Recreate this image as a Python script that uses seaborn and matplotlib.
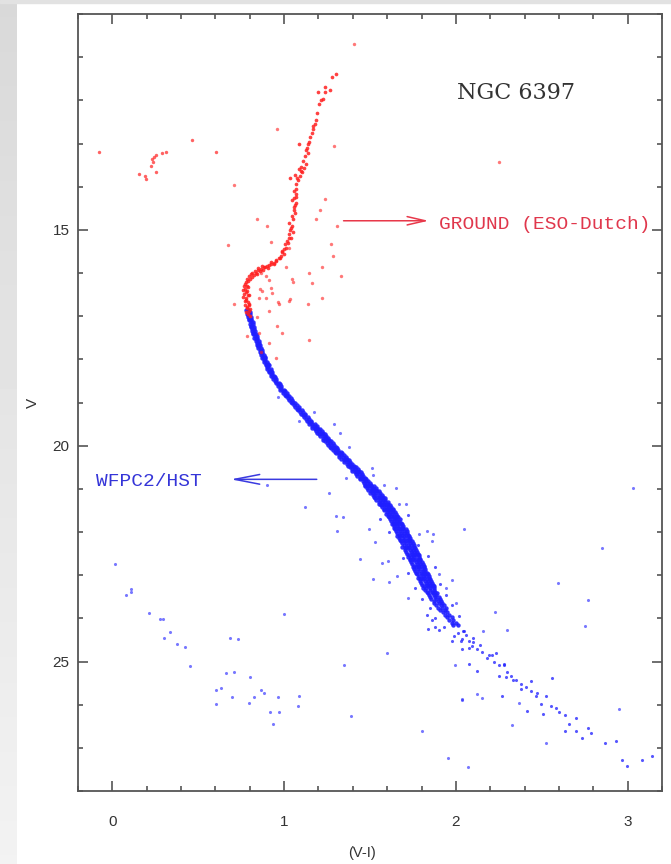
import numpy as np
import pandas as pd
import matplotlib
matplotlib.use('Agg')
import matplotlib.pyplot as plt
from matplotlib.ticker import MultipleLocator
import seaborn as sns

# ---- data (colour V-I, magnitude V) ----

# ground-based (red): giant branch + subgiant branch + turnoff
rgb_pts = [
    (1.276, 11.45), (1.300, 11.40), (1.195, 11.80), (1.236, 11.80), (1.265, 11.76),
    (1.224, 11.96), (1.201, 12.08), (1.183, 12.45), (1.178, 12.54), (1.166, 12.66),
    (1.160, 12.75), (1.143, 12.96), (1.084, 13.00), (1.131, 13.10), (1.125, 13.16),
    (1.137, 13.23), (1.125, 13.47), (1.114, 13.56), (1.084, 13.58), (1.096, 13.63),
    (1.102, 13.67), (1.061, 13.74), (1.032, 13.81), (1.073, 13.81), (1.067, 13.93),
    (1.055, 14.09), (1.067, 14.16), (1.067, 14.25), (1.055, 14.27), (1.067, 14.37),
    (1.044, 14.32), (1.055, 14.48), (1.061, 14.62), (1.044, 14.67), (1.049, 14.74),
    (1.026, 14.85), (1.038, 14.95), (1.049, 15.06), (1.026, 15.09), (1.038, 15.18),
    (1.015, 15.25), (1.003, 15.32), (1.009, 15.41), (0.986, 15.48), (0.997, 15.55),
    (0.980, 15.60), (0.968, 15.66), (0.951, 15.71), (0.939, 15.76), (0.922, 15.78),
    (0.899, 15.83), (0.881, 15.87), (0.864, 15.90), (0.846, 15.94), (0.834, 15.99),
    (0.811, 16.01), (0.793, 16.06), (0.782, 16.13), (0.776, 16.22), (0.782, 16.29),
    (0.770, 16.36), (0.776, 16.45), (0.788, 16.52), (0.776, 16.59), (0.788, 16.68),
    (0.793, 16.75), (0.782, 16.80), (0.793, 16.87),
    (0.955, 15.73), (0.940, 15.80), (0.925, 15.74), (0.910, 15.82), (0.905, 15.88),
    (0.890, 15.86), (0.875, 15.93), (0.870, 15.84), (0.858, 15.96), (0.850, 15.89),
    (0.840, 16.02), (0.828, 15.95), (0.822, 16.05), (0.815, 16.10), (0.805, 16.03),
    (0.800, 16.15), (0.790, 16.18), (0.772, 16.25), (0.765, 16.30), (0.792, 16.33),
    (0.760, 16.40), (0.785, 16.42), (0.768, 16.48), (0.795, 16.50), (0.762, 16.55),
    (0.780, 16.62), (0.770, 16.66), (0.795, 16.72), (0.773, 16.74), (0.785, 16.78),
    (0.800, 16.83), (0.776, 16.90), (0.790, 16.95), (0.800, 17.00), (0.975, 15.65),
    (0.990, 15.52), (1.000, 15.45), (1.020, 15.30), (1.030, 15.20), (1.035, 15.00),
    (1.045, 14.90), (1.055, 14.55), (1.065, 14.42), (1.070, 14.05), (1.080, 13.85),
    (1.090, 13.75), (1.100, 13.55), (1.110, 13.40), (1.120, 13.30), (1.140, 13.00),
    (1.150, 12.85), (1.170, 12.60), (1.190, 12.30), (1.215, 12.00), (1.240, 11.70),
]

# horizontal branch (red)
hb_pts = [
    (-0.080, 13.19), (0.153, 13.70), (0.188, 13.75), (0.194, 13.83), (0.223, 13.51),
    (0.235, 13.44), (0.240, 13.32), (0.252, 13.26), (0.229, 13.35), (0.287, 13.21),
    (0.310, 13.19), (0.252, 13.65), (0.462, 12.91), (0.601, 13.19),
]

# scattered red field stars
red_field = [
    (0.957, 12.66), (0.706, 13.95), (1.288, 13.06), (1.406, 10.69), (2.249, 13.44),
    (0.841, 14.74), (0.899, 14.90), (0.671, 15.36), (0.922, 15.29), (1.184, 14.76),
    (1.207, 14.53), (1.306, 14.90), (1.271, 15.32), (1.282, 15.60), (1.009, 15.87),
    (1.143, 16.01), (1.218, 15.85), (1.044, 16.13), (1.160, 16.24), (1.329, 16.08),
    (0.706, 16.71), (0.963, 16.68), (1.032, 16.61), (1.137, 16.71), (1.218, 16.59),
    (1.143, 17.56), (0.852, 17.38), (1.236, 14.28), (0.864, 15.99), (0.893, 16.06),
    (0.910, 16.17), (0.922, 16.34), (0.927, 16.47), (0.968, 16.71), (0.910, 16.87),
    (0.857, 16.36), (0.852, 16.57), (0.840, 17.03), (0.956, 17.22), (0.985, 17.40),
    (0.910, 17.63), (0.863, 17.84), (0.951, 17.96), (0.782, 17.45), (1.026, 16.64),
    (1.049, 16.20), (0.870, 16.41), (0.893, 16.57), (1.026, 15.41),
]

# HST (blue): dense main sequence ridge
ms_pts = [
    (0.778, 16.86), (0.791, 16.86), (0.788, 16.90), (0.801, 16.90), (0.781, 16.94), (0.799, 16.94),
    (0.797, 16.98), (0.789, 16.98), (0.807, 17.02), (0.788, 17.02), (0.797, 17.06), (0.809, 17.06),
    (0.795, 17.10), (0.809, 17.10), (0.806, 17.14), (0.819, 17.14), (0.799, 17.18), (0.817, 17.18),
    (0.815, 17.22), (0.808, 17.22), (0.825, 17.26), (0.806, 17.26), (0.815, 17.30), (0.827, 17.30),
    (0.813, 17.34), (0.830, 17.34), (0.827, 17.38), (0.820, 17.38), (0.837, 17.42), (0.819, 17.42),
    (0.828, 17.46), (0.840, 17.46), (0.827, 17.50), (0.844, 17.50), (0.842, 17.54), (0.835, 17.54),
    (0.853, 17.58), (0.834, 17.58), (0.843, 17.62), (0.855, 17.62), (0.842, 17.66), (0.859, 17.66),
    (0.856, 17.70), (0.849, 17.70), (0.867, 17.74), (0.848, 17.74), (0.858, 17.78), (0.870, 17.78),
    (0.857, 17.82), (0.874, 17.82), (0.872, 17.86), (0.865, 17.86), (0.883, 17.90), (0.864, 17.90),
    (0.875, 17.94), (0.887, 17.94), (0.874, 17.98), (0.891, 17.98), (0.890, 18.02), (0.883, 18.02),
    (0.901, 18.06), (0.882, 18.06), (0.893, 18.10), (0.905, 18.10), (0.893, 18.14), (0.910, 18.14),
    (0.909, 18.18), (0.902, 18.18), (0.921, 18.22), (0.902, 18.22), (0.913, 18.26), (0.925, 18.26),
    (0.913, 18.30), (0.930, 18.30), (0.930, 18.34), (0.923, 18.34), (0.943, 18.38), (0.924, 18.38),
    (0.936, 18.42), (0.948, 18.42), (0.936, 18.46), (0.953, 18.46), (0.953, 18.50), (0.946, 18.50),
    (0.968, 18.54), (0.951, 18.54), (0.962, 18.58), (0.975, 18.58), (0.964, 18.62), (0.983, 18.62),
    (0.983, 18.66), (0.974, 18.66), (0.999, 18.70), (0.978, 18.70), (0.993, 18.74), (1.007, 18.74),
    (0.994, 18.78), (1.015, 18.78), (1.016, 18.82), (1.006, 18.82), (1.031, 18.86), (1.010, 18.86),
    (1.024, 18.90), (1.039, 18.90), (1.027, 18.94), (1.048, 18.94), (1.050, 18.98), (1.040, 18.98),
    (1.066, 19.02), (1.045, 19.02), (1.060, 19.06), (1.075, 19.06), (1.063, 19.10), (1.084, 19.10),
    (1.086, 19.14), (1.076, 19.14), (1.102, 19.18), (1.080, 19.18), (1.095, 19.22), (1.110, 19.22),
    (1.097, 19.26), (1.119, 19.26), (1.120, 19.30), (1.110, 19.30), (1.137, 19.34), (1.114, 19.34),
    (1.130, 19.38), (1.146, 19.38), (1.132, 19.42), (1.155, 19.42), (1.156, 19.46), (1.146, 19.46),
    (1.147, 19.50), (1.165, 19.50), (1.179, 19.50), (1.162, 19.54), (1.180, 19.54), (1.192, 19.54),
    (1.162, 19.58), (1.178, 19.58), (1.194, 19.58), (1.179, 19.62), (1.195, 19.62), (1.209, 19.62),
    (1.183, 19.66), (1.203, 19.66), (1.219, 19.66), (1.192, 19.70), (1.214, 19.70), (1.226, 19.70),
    (1.205, 19.74), (1.221, 19.74), (1.238, 19.74), (1.208, 19.78), (1.230, 19.78), (1.244, 19.78),
    (1.225, 19.82), (1.241, 19.82), (1.255, 19.82), (1.228, 19.86), (1.248, 19.86), (1.264, 19.86),
    (1.237, 19.90), (1.259, 19.90), (1.271, 19.90), (1.250, 19.94), (1.266, 19.94), (1.283, 19.94),
    (1.253, 19.98), (1.275, 19.98), (1.289, 19.98), (1.270, 20.02), (1.286, 20.02), (1.300, 20.02),
    (1.273, 20.06), (1.293, 20.06), (1.309, 20.06), (1.282, 20.10), (1.304, 20.10), (1.316, 20.10),
    (1.296, 20.14), (1.312, 20.14), (1.329, 20.14), (1.300, 20.18), (1.322, 20.18), (1.336, 20.18),
    (1.318, 20.22), (1.334, 20.22), (1.348, 20.22), (1.322, 20.26), (1.342, 20.26), (1.358, 20.26),
    (1.332, 20.30), (1.354, 20.30), (1.366, 20.30), (1.346, 20.34), (1.362, 20.34), (1.379, 20.34),
    (1.350, 20.38), (1.372, 20.38), (1.386, 20.38), (1.368, 20.42), (1.384, 20.42), (1.398, 20.42),
    (1.372, 20.46), (1.392, 20.46), (1.408, 20.46), (1.382, 20.50), (1.404, 20.50), (1.416, 20.50),
    (1.395, 20.54), (1.411, 20.54), (1.428, 20.54), (1.398, 20.58), (1.420, 20.58), (1.434, 20.58),
    (1.415, 20.62), (1.431, 20.62), (1.445, 20.62), (1.418, 20.66), (1.438, 20.66), (1.454, 20.66),
    (1.427, 20.70), (1.449, 20.70), (1.461, 20.70), (1.440, 20.74), (1.456, 20.74), (1.473, 20.74),
    (1.443, 20.78), (1.465, 20.78), (1.479, 20.78), (1.460, 20.82), (1.476, 20.82), (1.490, 20.82),
    (1.463, 20.86), (1.483, 20.86), (1.499, 20.86), (1.472, 20.90), (1.494, 20.90), (1.506, 20.90),
    (1.468, 20.94), (1.486, 20.94), (1.507, 20.94), (1.525, 20.94),
    (1.483, 20.98), (1.504, 20.98), (1.519, 20.98), (1.537, 20.98),
    (1.488, 21.02), (1.509, 21.02), (1.524, 21.02), (1.536, 21.02),
    (1.506, 21.06), (1.524, 21.06), (1.542, 21.06), (1.554, 21.06),
    (1.502, 21.10), (1.517, 21.10), (1.535, 21.10), (1.559, 21.10),
    (1.516, 21.14), (1.532, 21.14), (1.550, 21.14), (1.567, 21.14),
    (1.521, 21.18), (1.545, 21.18), (1.564, 21.18), (1.575, 21.18),
    (1.532, 21.22), (1.553, 21.22), (1.568, 21.22), (1.586, 21.22),
    (1.537, 21.26), (1.558, 21.26), (1.573, 21.26), (1.585, 21.26),
    (1.554, 21.30), (1.572, 21.30), (1.590, 21.30), (1.602, 21.30),
    (1.550, 21.34), (1.565, 21.34), (1.583, 21.34), (1.607, 21.34),
    (1.564, 21.38), (1.580, 21.38), (1.598, 21.38), (1.615, 21.38),
    (1.568, 21.42), (1.592, 21.42), (1.611, 21.42), (1.622, 21.42),
    (1.579, 21.46), (1.600, 21.46), (1.615, 21.46), (1.633, 21.46),
    (1.583, 21.50), (1.604, 21.50), (1.619, 21.50), (1.631, 21.50),
    (1.598, 21.54), (1.616, 21.54), (1.634, 21.54), (1.646, 21.54),
    (1.593, 21.58), (1.608, 21.58), (1.626, 21.58), (1.650, 21.58),
    (1.605, 21.62), (1.621, 21.62), (1.639, 21.62), (1.656, 21.62),
    (1.609, 21.66), (1.633, 21.66), (1.652, 21.66), (1.663, 21.66),
    (1.618, 21.70), (1.639, 21.70), (1.654, 21.70), (1.672, 21.70),
    (1.620, 21.74), (1.641, 21.74), (1.656, 21.74), (1.668, 21.74),
    (1.634, 21.78), (1.652, 21.78), (1.670, 21.78), (1.682, 21.78),
    (1.627, 21.82), (1.642, 21.82), (1.660, 21.82), (1.684, 21.82),
    (1.639, 21.86), (1.655, 21.86), (1.673, 21.86), (1.690, 21.86),
    (1.641, 21.90), (1.665, 21.90), (1.684, 21.90), (1.695, 21.90),
    (1.645, 21.94), (1.668, 21.94), (1.687, 21.94), (1.707, 21.94),
    (1.650, 21.98), (1.675, 21.98), (1.696, 21.98), (1.713, 21.98),
    (1.656, 22.02), (1.680, 22.02), (1.700, 22.02), (1.718, 22.02),
    (1.668, 22.06), (1.689, 22.06), (1.710, 22.06), (1.724, 22.06),
    (1.659, 22.10), (1.677, 22.10), (1.698, 22.10), (1.726, 22.10),
    (1.671, 22.14), (1.692, 22.14), (1.713, 22.14), (1.731, 22.14),
    (1.676, 22.18), (1.700, 22.18), (1.721, 22.18), (1.735, 22.18),
    (1.681, 22.22), (1.706, 22.22), (1.727, 22.22), (1.744, 22.22),
    (1.686, 22.26), (1.712, 22.26), (1.731, 22.26), (1.749, 22.26),
    (1.698, 22.30), (1.719, 22.30), (1.740, 22.30), (1.754, 22.30),
    (1.689, 22.34), (1.707, 22.34), (1.728, 22.34), (1.756, 22.34),
    (1.701, 22.38), (1.722, 22.38), (1.743, 22.38), (1.761, 22.38),
    (1.706, 22.42), (1.730, 22.42), (1.751, 22.42), (1.765, 22.42),
    (1.711, 22.46), (1.736, 22.46), (1.757, 22.46), (1.774, 22.46),
    (1.716, 22.50), (1.742, 22.50), (1.761, 22.50), (1.779, 22.50),
    (1.728, 22.54), (1.749, 22.54), (1.770, 22.54), (1.784, 22.54),
    (1.719, 22.58), (1.737, 22.58), (1.758, 22.58), (1.786, 22.58),
    (1.731, 22.62), (1.752, 22.62), (1.773, 22.62), (1.791, 22.62),
    (1.735, 22.66), (1.759, 22.66), (1.780, 22.66), (1.794, 22.66),
    (1.740, 22.70), (1.766, 22.70), (1.785, 22.70), (1.803, 22.70),
    (1.745, 22.74), (1.771, 22.74), (1.790, 22.74), (1.808, 22.74),
    (1.757, 22.78), (1.778, 22.78), (1.799, 22.78), (1.813, 22.78),
    (1.748, 22.82), (1.766, 22.82), (1.787, 22.82), (1.815, 22.82),
    (1.759, 22.86), (1.780, 22.86), (1.801, 22.86), (1.819, 22.86),
    (1.764, 22.90), (1.788, 22.90), (1.809, 22.90), (1.823, 22.90),
    (1.769, 22.94), (1.795, 22.94), (1.814, 22.94), (1.832, 22.94),
    (1.774, 22.98), (1.800, 22.98), (1.819, 22.98), (1.837, 22.98),
    (1.786, 23.02), (1.807, 23.02), (1.828, 23.02), (1.842, 23.02),
    (1.777, 23.06), (1.795, 23.06), (1.816, 23.06), (1.844, 23.06),
    (1.789, 23.10), (1.810, 23.10), (1.831, 23.10), (1.849, 23.10),
    (1.794, 23.14), (1.818, 23.14), (1.839, 23.14), (1.853, 23.14),
    (1.799, 23.18), (1.825, 23.18), (1.844, 23.18), (1.862, 23.18),
    (1.804, 23.22), (1.830, 23.22), (1.849, 23.22), (1.867, 23.22),
    (1.817, 23.26), (1.838, 23.26), (1.859, 23.26), (1.873, 23.26),
    (1.808, 23.30), (1.826, 23.30), (1.847, 23.30), (1.875, 23.30),
    (1.823, 23.34), (1.851, 23.34), (1.872, 23.34), (1.833, 23.38), (1.860, 23.38), (1.880, 23.38),
    (1.838, 23.42), (1.866, 23.42), (1.889, 23.42), (1.841, 23.46), (1.870, 23.46), (1.887, 23.46),
    (1.850, 23.50), (1.878, 23.50), (1.899, 23.50), (1.858, 23.55), (1.885, 23.55), (1.905, 23.55),
    (1.870, 23.60), (1.894, 23.60), (1.915, 23.60), (1.875, 23.65), (1.902, 23.65), (1.921, 23.65),
    (1.884, 23.70), (1.912, 23.70), (1.931, 23.70), (1.896, 23.75), (1.921, 23.75), (1.940, 23.75),
    (1.910, 23.80), (1.936, 23.80), (1.925, 23.86), (1.950, 23.86), (1.935, 23.92), (1.960, 23.92),
    (1.950, 23.98), (1.975, 23.98), (1.958, 24.04), (1.985, 24.04), (1.975, 24.10), (2.000, 24.10),
    (1.982, 24.16), (2.010, 24.16),
]

# HST (blue): lower main sequence and the fuzz around the ridge, sparser
ms_lower = [
    (2.033, 24.47), (2.074, 24.52), (2.092, 24.63), (2.121, 24.70), (2.150, 24.79),
    (2.179, 24.93), (2.220, 25.02), (2.249, 25.09), (2.278, 25.09), (2.249, 25.33),
    (2.289, 25.37), (2.318, 25.33), (2.348, 25.44), (2.377, 25.51), (2.406, 25.60),
    (2.435, 25.68), (2.464, 25.79), (2.522, 25.79), (2.493, 25.98), (2.551, 26.02),
    (2.580, 26.07), (2.510, 26.21), (2.638, 26.25), (2.697, 26.30), (2.656, 26.44),
    (2.638, 26.60), (2.697, 26.60), (2.772, 26.53), (2.784, 26.65), (2.732, 26.78),
    (2.871, 26.88), (2.930, 26.85), (2.970, 27.29), (2.994, 27.43), (3.081, 27.29),
    (3.139, 27.18), (2.557, 25.39), (2.435, 25.46), (2.382, 25.63), (2.412, 26.14),
    (2.266, 25.79), (2.074, 25.05), (2.121, 25.21), (2.231, 24.81), (2.278, 25.05),
    (2.208, 24.86), (2.033, 24.70), (1.975, 24.52), (2.027, 24.52), (2.074, 24.68),
    (2.040, 24.30), (2.060, 24.38), (2.010, 24.35), (2.100, 24.55), (2.140, 24.62),
    (2.190, 24.85), (2.300, 25.25), (2.330, 25.42), (2.470, 25.72), (2.600, 26.18),
    (1.560, 21.70), (1.720, 21.60), (1.610, 22.00), (1.780, 22.30), (1.690, 22.60),
    (1.840, 22.55), (1.720, 22.95), (1.880, 22.80), (1.760, 23.30), (1.910, 23.20),
    (1.800, 23.55), (1.940, 23.45), (1.850, 23.75), (1.980, 23.70), (1.880, 24.00),
    (2.020, 23.95), (1.930, 24.20), (2.050, 24.30), (1.990, 24.40), (2.100, 24.45),
    (1.830, 23.92), (1.860, 24.05), (1.880, 24.20), (1.840, 24.25), (1.900, 24.28),
]

# scattered blue field stars
blue_field = [
    (0.899, 20.92), (1.120, 21.43), (1.260, 21.09), (1.300, 21.62), (1.340, 21.66),
    (1.306, 21.97), (1.440, 22.62), (1.516, 23.08), (1.719, 23.52), (1.497, 21.92),
    (1.527, 22.24), (1.567, 22.71), (1.602, 22.68), (1.660, 23.01), (2.045, 21.92),
    (1.829, 21.97), (1.864, 22.04), (0.962, 18.88), (1.288, 19.49), (1.328, 19.70),
    (1.375, 20.02), (1.509, 20.51), (1.515, 20.67), (1.358, 20.76), (1.579, 20.92),
    (1.649, 20.99), (1.666, 21.34), (1.707, 21.34), (1.783, 22.04), (1.859, 22.20),
    (1.900, 22.97), (1.975, 23.12), (1.940, 23.29), (1.608, 23.15), (1.084, 19.42),
    (1.172, 19.23), (1.597, 24.81), (1.347, 25.09), (1.388, 26.27), (1.800, 26.62),
    (1.952, 27.24), (2.068, 27.45), (2.034, 25.90), (2.121, 25.76), (2.150, 25.84),
    (2.326, 26.46), (2.225, 23.86), (2.156, 24.30), (2.295, 24.28), (2.592, 23.17),
    (2.848, 22.36), (2.772, 23.57), (2.749, 24.17), (1.999, 23.64), (2.522, 26.88),
    (2.947, 26.11), (2.365, 25.97), (3.030, 20.99), (1.992, 25.09), (2.033, 25.88),
]

# faint blue sequence at lower left
wd_pts = [
    (0.013, 22.74), (0.078, 23.45), (0.106, 23.33), (0.106, 23.40), (0.216, 23.87),
    (0.275, 24.01), (0.292, 24.01), (0.303, 24.45), (0.333, 24.31), (0.374, 24.59),
    (0.421, 24.66), (0.450, 25.10), (0.602, 25.67), (0.631, 25.62), (0.602, 25.99),
    (0.659, 25.27), (0.683, 24.45), (0.730, 24.49), (0.706, 25.25), (0.695, 25.83),
    (0.804, 25.37), (0.798, 25.97), (0.827, 25.83), (0.868, 25.67), (0.885, 25.72),
    (0.915, 26.16), (0.933, 26.44), (0.962, 25.83), (0.968, 26.18), (0.997, 23.89),
    (1.078, 26.04), (1.084, 25.81),
]

x_major = [0, 1, 2, 3]
y_major = [15, 20, 25]

RED = '#ff1f1f'
BLUE = '#1f1fff'

# ---- figure ----
sns.set_style('ticks')
plt.rcParams['font.family'] = ['Liberation Sans', 'DejaVu Sans']

fig = plt.figure(figsize=(6.71, 8.64), dpi=100)
fig.patch.set_facecolor('white')

# slide background strip on the left / top
bg = fig.add_axes([0, 0, 17 / 671, 1])
grad = np.linspace(0.85, 0.95, 100).reshape(-1, 1)
bg.imshow(grad, aspect='auto', cmap='gray', vmin=0, vmax=1, origin='upper')
bg.axis('off')
fig.patches.append(plt.Rectangle((0, 1 - 3 / 864), 1, 3 / 864, transform=fig.transFigure,
                                 color='#e2e2e2', zorder=0))

ax = fig.add_axes([78 / 671, 1 - 791 / 864, 584 / 671, 777 / 864])


def to_df(pts):
    return pd.DataFrame(pts, columns=['vi', 'v'])


sns.scatterplot(data=to_df(ms_pts), x='vi', y='v', ax=ax, color=BLUE, s=10,
                linewidth=0, alpha=0.9)
sns.scatterplot(data=to_df(ms_lower), x='vi', y='v', ax=ax, color=BLUE, s=5,
                linewidth=0, alpha=0.75)
sns.scatterplot(data=to_df(blue_field), x='vi', y='v', ax=ax, color=BLUE, s=5,
                linewidth=0, alpha=0.6)
sns.scatterplot(data=to_df(wd_pts), x='vi', y='v', ax=ax, color=BLUE, s=5,
                linewidth=0, alpha=0.6)
sns.scatterplot(data=to_df(rgb_pts), x='vi', y='v', ax=ax, color=RED, s=7,
                linewidth=0, alpha=0.85)
sns.scatterplot(data=to_df(hb_pts), x='vi', y='v', ax=ax, color=RED, s=6,
                linewidth=0, alpha=0.7)
sns.scatterplot(data=to_df(red_field), x='vi', y='v', ax=ax, color=RED, s=6,
                linewidth=0, alpha=0.6)

ax.set_xlim(-0.2, 3.2)
ax.set_ylim(28, 10)

ax.set_xticks(x_major)
ax.set_yticks(y_major)
ax.xaxis.set_minor_locator(MultipleLocator(0.2))
ax.yaxis.set_minor_locator(MultipleLocator(1))
ax.tick_params(which='both', direction='in', top=True, right=True, color='#555555',
               width=1.2, labelcolor='#333333', labelsize=11)
ax.tick_params(axis='x', which='major', length=7, pad=17)
ax.tick_params(axis='y', which='major', length=7, pad=6)
ax.tick_params(which='minor', length=3.5)
for sp in ax.spines.values():
    sp.set_visible(True)
    sp.set_color('#555555')
    sp.set_linewidth(1.3)

ax.set_xlabel('')
ax.set_ylabel('')
ax.text(0.486, -0.080, '(V-I)', transform=ax.transAxes, ha='center', va='center',
        fontsize=10.5, color='#333333')
ax.text(-0.077, 0.50, 'V', transform=ax.transAxes, ha='center', va='center',
        rotation=90, fontsize=11, color='#333333')

# annotations
ax.text(2.005, 11.82, 'NGC 6397', family='DejaVu Serif', fontsize=16,
        color='#333333', ha='left', va='center')

ax.annotate('', xy=(1.841, 14.79), xytext=(1.346, 14.79),
            arrowprops=dict(arrowstyle='->,head_length=1.3,head_width=0.3',
                            color='#e8384a', lw=1.1, shrinkA=0, shrinkB=0))
ax.text(1.899, 14.88, 'GROUND (ESO-Dutch)', family='Liberation Mono', fontsize=14,
        color='#e0374c', ha='left', va='center')

ax.annotate('', xy=(0.689, 20.78), xytext=(1.19, 20.78),
            arrowprops=dict(arrowstyle='->,head_length=1.8,head_width=0.35',
                            color='#3a3ae0', lw=1.1, shrinkA=0, shrinkB=0))
ax.text(-0.097, 20.83, 'WFPC2/HST', family='Liberation Mono', fontsize=14,
        color='#3535d8', ha='left', va='center')

fig.savefig('out.png', dpi=100, facecolor='white')
